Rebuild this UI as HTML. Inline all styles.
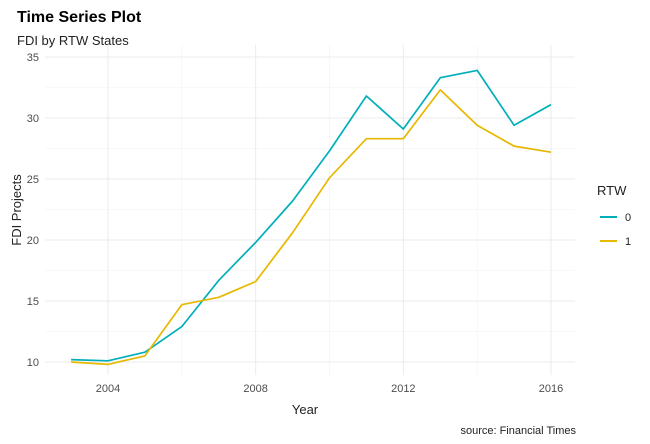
<!DOCTYPE html>
<html><head><meta charset="utf-8"><style>
html,body{margin:0;padding:0;background:#fff;}
svg{display:block;font-family:"Liberation Sans",Arial,sans-serif;}
</style></head><body>
<svg id="chart" width="650" height="444" viewBox="0 0 650 444">
<text x="17" y="22" font-size="16" font-weight="bold" fill="#000">Time Series Plot</text>
<text x="17" y="45" font-size="13" fill="#222">FDI by RTW States</text>
<g id="grid"></g>
<g id="yaxis"></g>
<g id="xaxis"></g>
<g id="lines"></g>
<text x="305" y="414" font-size="13" fill="#222" text-anchor="middle">Year</text>
<text transform="translate(21,210) rotate(-90)" font-size="13" fill="#222" text-anchor="middle">FDI Projects</text>
<text x="576" y="434" font-size="11" fill="#222" text-anchor="end">source: Financial Times</text>
<g>
<text x="597" y="195" font-size="13" fill="#222">RTW</text>
<g><line x1="600" y1="217" x2="617" y2="217" stroke="#00AFBB" stroke-width="2"/><text x="625" y="221" font-size="11" fill="#222">0</text></g>
<g><line x1="600" y1="241" x2="617" y2="241" stroke="#E7B800" stroke-width="2"/><text x="625" y="245" font-size="11" fill="#222">1</text></g>
</g>
</svg>
<script>
const years=[2003,2004,2005,2006,2007,2008,2009,2010,2011,2012,2013,2014,2015,2016];
const rtw0=[10.2,10.1,10.8,12.9,16.7,19.8,23.2,27.3,31.8,29.1,33.3,33.9,29.4,31.1];
const rtw1=[10.0,9.8,10.5,14.7,15.3,16.6,20.6,25.1,28.3,28.3,32.3,29.4,27.7,27.2];
const yTicks=[10,15,20,25,30,35];
const xTicks=[2004,2008,2012,2016];
const NS="http://www.w3.org/2000/svg";
const L=45,R=575,T=45,B=375;
const xs=v=>108+(v-2004)*(551-108)/12;
const ys=v=>362-(v-10)*(362-57)/25;
function mk(tag,attrs,parent){const e=document.createElementNS(NS,tag);for(const k in attrs)e.setAttribute(k,attrs[k]);parent.appendChild(e);return e;}
const grid=document.getElementById('grid'),ya=document.getElementById('yaxis'),xa=document.getElementById('xaxis'),lg=document.getElementById('lines');
for(let i=0;i<yTicks.length;i++){const v=yTicks[i];
 if(i>0){const m=mk('line',{x1:L,x2:R,y1:ys(v-2.5),y2:ys(v-2.5),stroke:'#f2f2f2','stroke-width':0.6},grid);}
 const g=mk('line',{x1:L,x2:R,y1:ys(v),y2:ys(v),stroke:'#ebebeb','stroke-width':1},grid);
 
 const t=mk('text',{x:39,y:ys(v)+4,'font-size':11,fill:'#4d4d4d','text-anchor':'end'},ya);t.textContent=v;
 }
for(let i=0;i<xTicks.length;i++){const v=xTicks[i];
 if(i>0){const m=mk('line',{x1:xs(v-2),x2:xs(v-2),y1:T,y2:B,stroke:'#f2f2f2','stroke-width':0.6},grid);}
 const g=mk('line',{x1:xs(v),x2:xs(v),y1:T,y2:B,stroke:'#ebebeb','stroke-width':1},grid);
 
 const t=mk('text',{x:xs(v),y:392,'font-size':11,fill:'#4d4d4d','text-anchor':'middle'},xa);t.textContent=v;
 }
function draw(vals,color,name){
 const d=vals.map((v,i)=>(i?'L':'M')+xs(years[i]).toFixed(1)+','+ys(v).toFixed(1)).join(' ');
 const p=mk('path',{d:d,fill:'none',stroke:color,'stroke-width':1.7,'stroke-linejoin':'round'},lg);
 }
draw(rtw0,'#00AFBB','line-rtw-0');
draw(rtw1,'#E7B800','line-rtw-1');
</script>
</body></html>
